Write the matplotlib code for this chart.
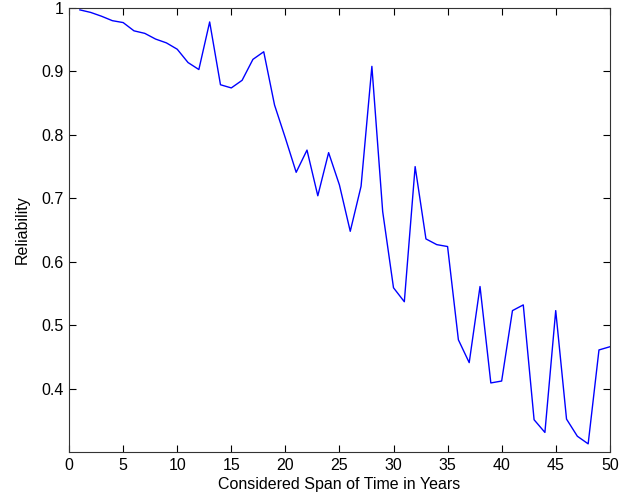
import numpy as np
import matplotlib.pyplot as plt

years = list(range(1, 51))
reliability = [0.997, 0.993, 0.987, 0.980, 0.977, 0.964, 0.960, 0.951, 0.945, 0.935,
               0.914, 0.903, 0.978, 0.879, 0.874, 0.886, 0.919, 0.931, 0.847, 0.795,
               0.741, 0.776, 0.704, 0.772, 0.721, 0.648, 0.719, 0.908, 0.679, 0.559,
               0.537, 0.750, 0.636, 0.627, 0.624, 0.477, 0.441, 0.561, 0.409, 0.412,
               0.523, 0.532, 0.351, 0.331, 0.523, 0.352, 0.325, 0.313, 0.461, 0.466]
xticks = list(range(0, 51, 5))
yticks = [0.4, 0.5, 0.6, 0.7, 0.8, 0.9, 1.0]
ytick_labels = ['0.4', '0.5', '0.6', '0.7', '0.8', '0.9', '1']

plt.rcParams['font.family'] = ['Liberation Sans', 'DejaVu Sans']

fig = plt.figure(figsize=(6.28, 4.99), dpi=100)
ax = fig.add_axes([0.110, 0.094, 0.861, 0.890])
ax.plot(years, reliability, color='blue', linewidth=1.0)

ax.set_xlim(0, 50)
ax.set_ylim(0.3, 1.0)
ax.set_xticks(xticks)
ax.set_xticklabels([str(t) for t in xticks])
ax.set_yticks(yticks)
ax.set_yticklabels(ytick_labels)
ax.tick_params(direction='in', top=True, right=True, labelsize=11.5, length=5)
ax.tick_params(axis='x', pad=4)
ax.tick_params(axis='y', pad=4)
for s in ax.spines.values():
    s.set_color('#333333')
ax.set_xlabel('Considered Span of Time in Years', fontsize=11.5, labelpad=3)
ax.set_ylabel('Reliability', fontsize=11.5, labelpad=8)

fig.savefig('out.png', dpi=100)
